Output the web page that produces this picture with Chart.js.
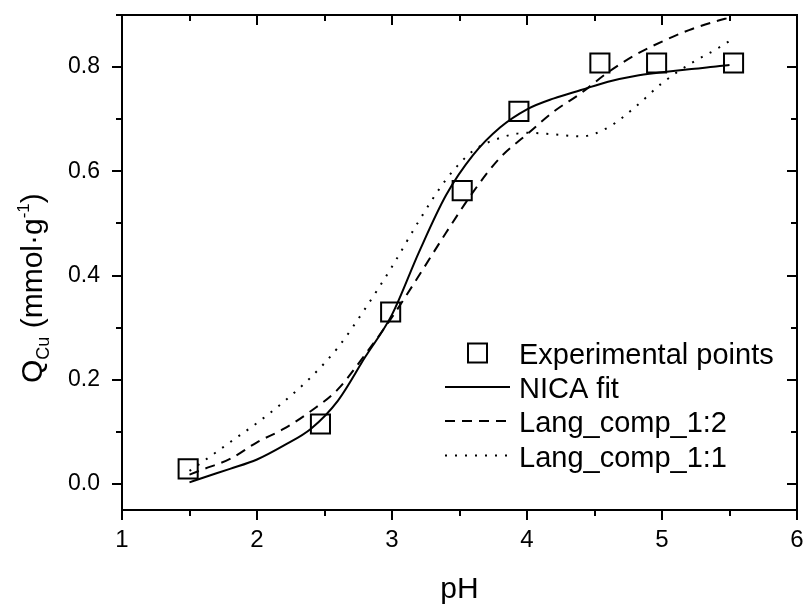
<!DOCTYPE html>
<html lang="en">
<head>
    <meta charset="UTF-8">
    <title>Q Cu vs pH</title>
    <script src="https://cdn.jsdelivr.net/npm/chart.js"></script>
    <style>
        html, body { margin: 0; padding: 0; background: #fff; }
        canvas { display: block; }
    </style>
</head>
<body>
    <canvas id="isoChart" width="807" height="606"></canvas>

    <script>
        // pH grid used for the model curves
        const curvePH = [1.5, 1.6, 1.8, 2.0, 2.2, 2.4, 2.6, 2.8, 3.0, 3.2, 3.4, 3.6, 3.8, 4.0, 4.2, 4.4, 4.6, 4.8, 5.0, 5.2, 5.4, 5.5];
        const nicaFit = [0.003, 0.012, 0.029, 0.047, 0.074, 0.106, 0.160, 0.243, 0.325, 0.445, 0.554, 0.631, 0.684, 0.719, 0.740, 0.756, 0.772, 0.783, 0.790, 0.796, 0.801, 0.804];
        const langComp12 = [0.018, 0.028, 0.048, 0.080, 0.106, 0.140, 0.182, 0.248, 0.320, 0.400, 0.482, 0.560, 0.626, 0.671, 0.715, 0.750, 0.790, 0.823, 0.849, 0.871, 0.888, 0.895];
        const langComp11 = [0.025, 0.043, 0.080, 0.117, 0.158, 0.205, 0.262, 0.336, 0.417, 0.505, 0.584, 0.639, 0.664, 0.674, 0.671, 0.667, 0.684, 0.723, 0.769, 0.805, 0.834, 0.850];

        // experimental points
        const expPH = [1.49, 2.47, 2.99, 3.52, 3.94, 4.54, 4.96, 5.53];
        const expQ = [0.029, 0.115, 0.330, 0.563, 0.715, 0.808, 0.808, 0.808];

        // axes
        const xTicks = [1, 2, 3, 4, 5, 6];
        const xMinor = [1.5, 2.5, 3.5, 4.5, 5.5];
        const yTicks = [0, 0.2, 0.4, 0.6, 0.8];
        const yMinor = [0.1, 0.3, 0.5, 0.7, 0.9];

        const FONT = "'Liberation Sans', Arial, sans-serif";

        const toPts = (xs, ys) => xs.map((x, i) => ({ x: x, y: ys[i] }));

        // frame, tick marks, axis titles and legend drawn on top of the chart
        const framePlugin = {
            id: 'frame',
            afterDraw(chart) {
                const ctx = chart.ctx;
                const a = chart.chartArea;
                const xs = chart.scales.x, ys = chart.scales.y;
                ctx.save();
                ctx.strokeStyle = '#000';
                ctx.lineWidth = 2;
                ctx.strokeRect(a.left, a.top, a.right - a.left, a.bottom - a.top);

                ctx.beginPath();
                const xt = (v, len) => {
                    const px = Math.round(xs.getPixelForValue(v));
                    ctx.moveTo(px, a.bottom); ctx.lineTo(px, a.bottom + len);
                    ctx.moveTo(px, a.top); ctx.lineTo(px, a.top + len);
                };
                const yt = (v, len) => {
                    const py = Math.round(ys.getPixelForValue(v));
                    ctx.moveTo(a.left, py); ctx.lineTo(a.left - len, py);
                    ctx.moveTo(a.right, py); ctx.lineTo(a.right - len, py);
                };
                xTicks.forEach(v => xt(v, 10));
                xMinor.forEach(v => xt(v, 6));
                yTicks.forEach(v => yt(v, 10));
                yMinor.forEach(v => yt(v, 6));
                ctx.stroke();

                // x title
                ctx.fillStyle = '#000';
                ctx.font = '30px ' + FONT;
                ctx.textAlign = 'center';
                ctx.textBaseline = 'alphabetic';
                ctx.fillText('pH', (a.left + a.right) / 2, 598);

                // y title with subscript and superscript
                const parts = [
                    { t: 'Q', size: 30, dy: 0 },
                    { t: 'Cu', size: 18, dy: 7 },
                    { t: ' (mmol\u00B7g', size: 30, dy: 0 },
                    { t: '-1', size: 17, dy: -13 },
                    { t: ')', size: 30, dy: 0 }
                ];
                ctx.save();
                ctx.translate(42, 383);
                ctx.rotate(-Math.PI / 2);
                ctx.textAlign = 'left';
                let cx = 0;
                parts.forEach(p => {
                    ctx.font = p.size + 'px ' + FONT;
                    ctx.fillText(p.t, cx, p.dy);
                    cx += ctx.measureText(p.t).width;
                });
                ctx.restore();

                // legend
                const ds = chart.data.datasets;
                const baselines = [364, 398, 432, 466.5];
                ctx.font = '29px ' + FONT;
                ctx.textAlign = 'left';
                ds.forEach((d, i) => {
                    const by = baselines[i];
                    const my = by - 11;
                    ctx.strokeStyle = '#000';
                    ctx.lineWidth = 2;
                    if (d.showLine === false) {
                        ctx.setLineDash([]);
                        ctx.strokeRect(468, my - 9.5, 19, 19);
                    } else {
                        ctx.setLineDash(d.borderDash || []);
                        ctx.beginPath();
                        ctx.moveTo(445, my);
                        ctx.lineTo(510, my);
                        ctx.stroke();
                        ctx.setLineDash([]);
                    }
                    ctx.fillText(d.label, 519, by);
                });
                ctx.restore();
            }
        };

        const ctx = document.getElementById('isoChart').getContext('2d');
        new Chart(ctx, {
            type: 'scatter',
            data: {
                datasets: [
                    {
                        label: 'Experimental points',
                        data: toPts(expPH, expQ),
                        showLine: false,
                        pointStyle: 'rect',
                        pointRadius: 13.5,
                        pointBorderWidth: 2,
                        borderColor: '#000',
                        backgroundColor: 'rgba(0,0,0,0)'
                    },
                    {
                        label: 'NICA fit',
                        data: toPts(curvePH, nicaFit),
                        showLine: true,
                        borderColor: '#000',
                        borderWidth: 2,
                        pointRadius: 0,
                        cubicInterpolationMode: 'monotone'
                    },
                    {
                        label: 'Lang_comp_1:2',
                        data: toPts(curvePH, langComp12),
                        showLine: true,
                        borderColor: '#000',
                        borderWidth: 2,
                        borderDash: [10, 7],
                        pointRadius: 0,
                        cubicInterpolationMode: 'monotone'
                    },
                    {
                        label: 'Lang_comp_1:1',
                        data: toPts(curvePH, langComp11),
                        showLine: true,
                        borderColor: '#000',
                        borderWidth: 2,
                        borderDash: [2, 8],
                        pointRadius: 0,
                        cubicInterpolationMode: 'monotone'
                    }
                ]
            },
            options: {
                responsive: false,
                animation: false,
                devicePixelRatio: 1,
                layout: { autoPadding: false, padding: { top: 15, right: 10, left: 0, bottom: 0 } },
                plugins: {
                    legend: { display: false },
                    tooltip: { enabled: false }
                },
                scales: {
                    x: {
                        type: 'linear',
                        min: 1,
                        max: 6,
                        afterBuildTicks: s => { s.ticks = xTicks.map(v => ({ value: v })); },
                        afterFit: s => {
                            s.height = 96;
                            s.paddingLeft = 0;
                            s.paddingRight = 0;
                        },
                        grid: { drawOnChartArea: false, color: 'rgba(0,0,0,0)', tickLength: 10 },
                        border: { display: false },
                        ticks: {
                            padding: 6,
                            color: '#000',
                            font: { family: FONT, size: 24 },
                            maxRotation: 0,
                            callback: v => String(v)
                        }
                    },
                    y: {
                        type: 'linear',
                        min: -0.05,
                        max: 0.9,
                        afterBuildTicks: s => { s.ticks = yTicks.map(v => ({ value: v })); },
                        afterFit: s => {
                            s.width = 122;
                            s.paddingTop = 0;
                            s.paddingBottom = 0;
                        },
                        grid: { drawOnChartArea: false, color: 'rgba(0,0,0,0)', tickLength: 10 },
                        border: { display: false },
                        ticks: {
                            padding: 12,
                            color: '#000',
                            font: { family: FONT, size: 23 },
                            callback: v => v.toFixed(1)
                        }
                    }
                }
            },
            plugins: [framePlugin]
        });
    </script>
</body>
</html>
